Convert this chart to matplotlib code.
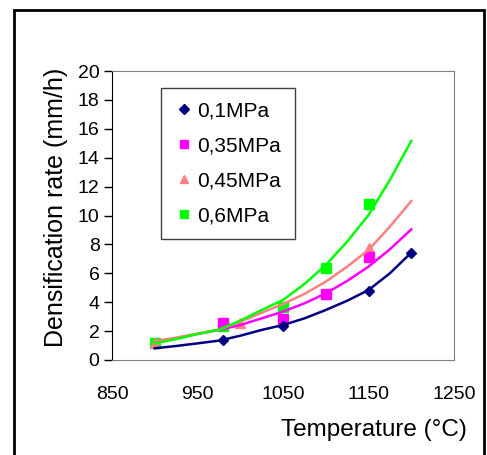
import matplotlib.pyplot as plt
from matplotlib.patches import Rectangle

plt.rcParams['font.family'] = ['Liberation Sans', 'DejaVu Sans']

# measured points
t_01 = [980, 1050, 1150, 1200]
v_01 = [1.38, 2.35, 4.75, 7.43]
t_035 = [980, 1050, 1100, 1150]
v_035 = [2.54, 2.84, 4.54, 7.15]
t_045 = [900, 1000, 1150]
v_045 = [1.2, 2.54, 7.73]
t_06 = [900, 980, 1050, 1100, 1150]
v_06 = [1.15, 2.35, 3.69, 6.4, 10.8]

# trend curves
t_fit = [900, 925, 950, 975, 1000, 1025, 1050, 1075, 1100, 1125, 1150, 1175, 1200]
fit_01 = [0.81, 0.97, 1.15, 1.34, 1.68, 2.08, 2.42, 2.88, 3.46, 4.1, 4.84, 6.0, 7.43]
fit_035 = [1.27, 1.5, 1.8, 2.08, 2.42, 2.88, 3.35, 3.92, 4.61, 5.47, 6.46, 7.66, 9.04]
fit_045 = [1.3, 1.55, 1.83, 2.1, 2.65, 3.27, 3.87, 4.57, 5.42, 6.46, 7.61, 9.23, 11.0]
fit_06 = [1.15, 1.45, 1.8, 2.1, 2.72, 3.46, 4.15, 5.26, 6.57, 8.19, 10.03, 12.46, 15.16]

labels = ['0,1MPa', '0,35MPa', '0,45MPa', '0,6MPa']
colors = ['#000080', '#FF00FF', '#FF8080', '#00FF00']

fig = plt.figure(figsize=(4.87, 4.55), dpi=100)
ax = fig.add_axes([112/487, 1 - 360/455, (454 - 112)/487, (360 - 71)/455])

ax.plot(t_06, v_06, 's', color=colors[3], ms=7, label=labels[3], zorder=2)
ax.plot(t_045, v_045, '^', color=colors[2], ms=7, label=labels[2], zorder=2)
ax.plot(t_035, v_035, 's', color=colors[1], ms=7, label=labels[1], zorder=2)
ax.plot(t_01, v_01, 'D', color=colors[0], ms=5.5, label=labels[0], zorder=2)

for f, c in zip([fit_01, fit_035, fit_045, fit_06], colors):
    ax.plot(t_fit, f, '-', color=c, lw=1.8, zorder=3)

ax.set_xlim(850, 1250)
ax.set_ylim(0, 20)
ax.set_xticks([850, 950, 1050, 1150, 1250])
ax.set_yticks(range(0, 21, 2))
ax.tick_params(axis='x', length=0, pad=19, labelsize=14)
ax.tick_params(axis='y', length=6, width=1, direction='out', pad=3, labelsize=14)

ax.spines['left'].set_color('black')
for s in ['top', 'right', 'bottom']:
    ax.spines[s].set_color('#808080')

h, l = ax.get_legend_handles_labels()
order = [3, 2, 1, 0]
leg = ax.legend([h[i] for i in order], [l[i] for i in order],
                loc='upper left', bbox_to_anchor=((161 - 112)/342, (360 - 88)/289),
                fontsize=15, fancybox=False, framealpha=1, edgecolor='#404040',
                handlelength=0.9, handletextpad=0.2, labelspacing=0.77,
                borderpad=0.65, borderaxespad=0, markerscale=0.85)
leg.get_frame().set_linewidth(1)

fig.text(56/487, 1 - 207/455, 'Densification rate (mm/h)', rotation=90,
         ha='center', va='center', fontsize=18)
fig.text(467/487, 1 - 430/455, 'Temperature (°C)', ha='right', va='center', fontsize=17.5)

fig.patches.append(Rectangle((14/487, -0.1), (484 - 14)/487, 1.1 - 10/455,
                             transform=fig.transFigure, fill=False,
                             edgecolor='black', lw=2))

plt.savefig('out.png', dpi=100)
